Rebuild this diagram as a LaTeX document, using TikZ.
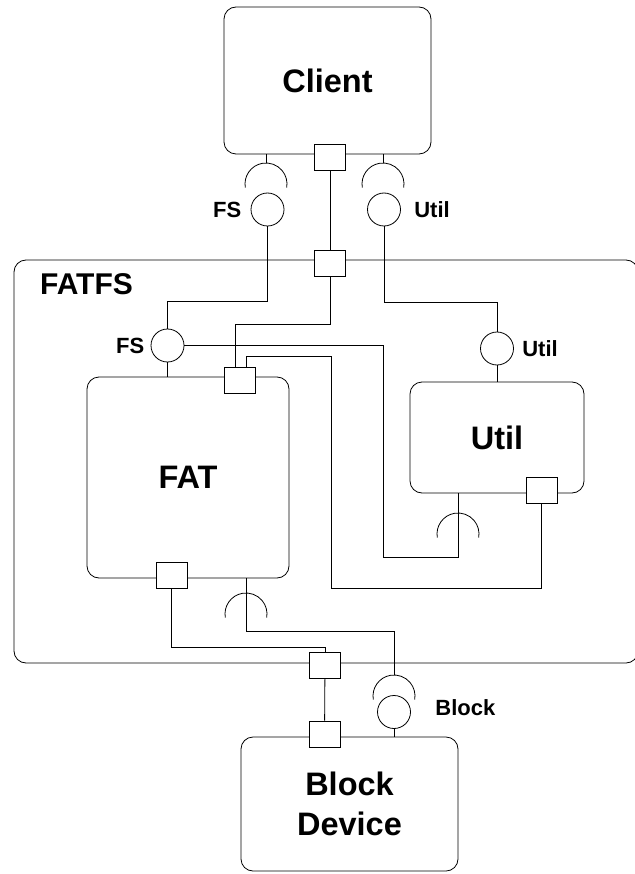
\documentclass[tikz,border=0pt]{standalone}
\usepackage{fontspec}
\setmainfont{Liberation Sans}
\usetikzlibrary{calc, positioning}

\newcommand{\cmpfont}{\fontsize{32.5}{40}\selectfont\bfseries}
\newcommand{\lblfont}{\fontsize{22}{24}\selectfont\bfseries}

\begin{document}
\begin{tikzpicture}[x=1pt, y=-1pt, line width=0.8pt,
    comp/.style={draw, rounded corners=12pt, fill=white, align=center, font=\cmpfont, inner sep=0pt},
    port/.style={draw, fill=white, minimum width=31pt, minimum height=26pt, inner sep=0pt},
    ball/.style={circle, draw, fill=white, minimum size=33pt, inner sep=0pt},
    lbl/.style={font=\lblfont, inner sep=0pt}
]
\newcommand{\sockt}[2]{\draw (#1) ++(170:#2) arc[start angle=170, end angle=370, radius=#2];}

\useasboundingbox[fill=white] (0,0) rectangle (634,874);

% enclosing component
\node[comp, minimum width=624pt, minimum height=403pt] (fatfs) at (326,461.5) {};
\node[font=\fontsize{30}{34}\selectfont\bfseries, inner sep=0pt] (fatfslbl) at (86.5,284.5) {FATFS};

% components
\node[comp, minimum width=207pt, minimum height=147pt] (client) at (327.5,80.5) {Client};
\node[comp, minimum width=202pt, minimum height=201pt] (fat) at (188,477.5) {FAT};
\node[comp, minimum width=174pt, minimum height=111pt] (util) at (497,437.5) {Util};
\node[comp, minimum width=217pt, minimum height=134pt] (blk) at (349.5,804) {Block\\Device};

% ports
\node[port] (cp) at (330,157) {};
\node[port] (ftp) at (330,263) {};
\node[port] (fattp) at (240,380) {};
\node[port] (fatbp) at (171.5,575) {};
\node[port] (utp) at (541.5,490) {};
\node[port] (fbp) at (325,665) {};
\node[port] (bp) at (324.5,734) {};

% provided interfaces
\node[ball] (fsball) at (267.5,209.5) {};
\node[ball] (utball) at (384,209.5) {};
\node[ball] (fsin) at (167.5,345.5) {};
\node[ball] (utin) at (497,348.5) {};
\node[ball] (blball) at (394,712) {};
\node[lbl, left=9pt of fsball] (fslbl) {FS};
\node[lbl, right=13pt of utball] (utlbl) {Util};
\node[lbl, left=6pt of fsin] (fsinlbl) {FS};
\node[lbl, right=8pt of utin] (utinlbl) {Util};
\node[lbl, anchor=west] (blklbl) at (435,708) {Block};

% required interfaces
\coordinate (csf) at (266,184);
\coordinate (csu) at (383,184);
\coordinate (usk) at (458,534);
\coordinate (fsk) at (246,614);
\coordinate (bsk) at (394,696);
\sockt{csf}{21}
\sockt{csu}{21}
\sockt{usk}{21}
\sockt{fsk}{21}
\sockt{bsk}{21}

% wiring
\draw (client.south -| csf) -- ($(csf)+(0,-21)$);
\draw (client.south -| csu) -- ($(csu)+(0,-21)$);
\draw (cp) -- (ftp);
\draw (fsball.south) -- (fsball.south |- 0,301) -| (fsin.north);
\draw (utball.south) -- (utball.south |- 0,302) -| (utin.north);
\draw (ftp.south) -- (ftp.south |- 0,324) -| ([xshift=-5pt]fattp.north);
\draw (fsin.south) -- (fsin.south |- fat.north);
\draw (utin.south) -- (utin.south |- util.north);
\draw (fsin.east) -| (383,557) -| (util.south -| usk);
\draw ([xshift=6pt]fattp.north) |- (331,356) -- (331,588) -| (utp.south);
\draw (fat.south -| fsk) -- (fsk |- 0,631) -| ($(bsk)+(0,-21)$);
\draw (fatbp.south) -- (fatbp.south |- 0,647) -| (fbp.north);
\draw (fbp) -- (bp);
\draw (blball.south) -- (blball.south |- blk.north);
\end{tikzpicture}
\end{document}
